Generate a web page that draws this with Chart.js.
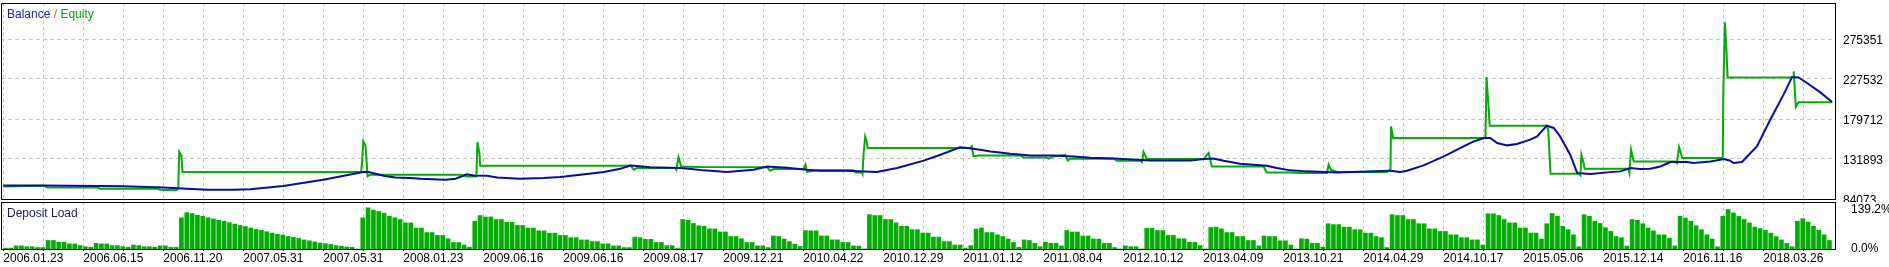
<!DOCTYPE html>
<html>
<head>
<meta charset="utf-8">
<title>Balance / Equity</title>
<script src="https://cdn.jsdelivr.net/npm/chart.js@4.4.1/dist/chart.umd.min.js"></script>
<style>
  html, body { margin: 0; padding: 0; background: #fff; }
  #wrap { position: relative; width: 1889px; height: 267px; overflow: hidden; font-family: 'Liberation Sans', Arial, sans-serif; font-size: 12px; }
  #top { position: absolute; left: 0; top: 0; }
  #bottom { position: absolute; left: 0; top: 202px; }
  .caption { position: absolute; left: 7px; line-height: 12px; white-space: pre; }
</style>
</head>
<body>
<div id="wrap">
  <canvas id="top" width="1889" height="202"></canvas>
  <canvas id="bottom" width="1889" height="65"></canvas>
  <div class="caption" style="top:8px"><span style="color:#2424a4">Balance</span><span style="color:#c07010"> / </span><span style="color:#00a800">Equity</span></div>
  <div class="caption" style="top:207px;color:#1c1c5c">Deposit Load</div>
</div>
<script>
// tester report: x axis is the deal number, labels are the dates of those deals
const dateLabels = ['2006.01.23', '2006.06.15', '2006.11.20', '2007.05.31', '2007.05.31', '2008.01.23',
  '2009.06.16', '2009.06.16', '2009.08.17', '2009.12.21', '2010.04.22', '2010.12.29', '2011.01.12',
  '2011.08.04', '2012.10.12', '2013.04.09', '2013.10.21', '2014.04.29', '2014.10.17', '2015.05.06',
  '2015.12.14', '2016.11.16', '2018.03.26'];
const dealsPerLabel = 15;

const priceTicks = [84073, 131893, 179712, 227532, 275351];
const loadTicks = [0, 139.2];

const balanceDeals = [0, 7.5, 22.5, 30, 34.5, 38.3, 43.1, 46.3, 52.5, 60, 67.5, 68.3, 71.3, 73.5, 76.3, 78.2,
  82.9, 84.8, 86.9, 88.2, 90.7, 92.6, 96.9, 101.3, 104.4, 108.2, 112.6, 115.7, 117.6, 118.8, 121.3, 126.9,
  129, 131.3, 135.7, 140.7, 143.2, 146.9, 150.7, 153.2, 158.2, 163.8, 167.6, 172.6, 175.7, 179.4, 180.7,
  183.2, 185.1, 186.9, 188.8, 192.6, 196.9, 200.7, 203.8, 208.2, 212.6, 215.1, 222.6, 225.1, 226.9, 228.8,
  231.9, 236.9, 238.8, 241.3, 244.4, 250.1, 260.1, 261.9, 263.2, 266.3, 270.1, 273.8, 275.7, 277.6, 278.8,
  280.1, 282, 283.8, 286.3, 287.6, 289.4, 290.7, 291.9, 293.8, 295.1, 297.6, 301.3, 303.2, 305.1, 306.9,
  308.8, 310.7, 312.6, 315.7, 316.9, 320.1, 322.6, 323.8, 324.4, 326, 327.6, 328.8, 331.3, 333.8, 335.4,
  336.6, 338.2, 340.7, 342.9];
const balanceValues = [100300, 100300, 99400, 97900, 96400, 95200, 95200, 95800, 99700, 107100, 116400,
  116700, 111900, 109900, 109200, 108300, 107100, 108300, 113500, 112300, 111900, 109900, 108300, 109200,
  110400, 113100, 116400, 120300, 124200, 123500, 121900, 121100, 120000, 118300, 116400, 119100, 123000,
  121500, 119100, 117900, 117900, 116400, 121100, 129900, 137000, 145800, 145000, 143000, 140800, 139800,
  138200, 136200, 136200, 135000, 133400, 132600, 131100, 130200, 130200, 131900, 132600, 129900, 126300,
  123900, 121100, 118300, 117100, 115900, 117900, 116400, 117900, 124200, 135000, 147000, 152900, 157000,
  157000, 151000, 148200, 149800, 155000, 158900, 171700, 169000, 158900, 137000, 115200, 114000, 116200,
  117100, 121100, 119900, 120300, 123000, 128300, 128300, 127100, 129000, 131900, 129900, 127100, 128300,
  139100, 147000, 178900, 208800, 229900, 229400, 222800, 211500, 200000];

const equityDeals = [0, 7.5, 8.3, 17.6, 18.2, 28.9, 29.4, 32.4, 32.8, 33, 33.4, 33.6, 67.1, 67.3, 67.5, 67.9,
  68.1, 68.3, 68.8, 85.7, 86.9, 88.7, 88.9, 89.3, 89.4, 116.3, 117.6, 118.2, 118.8, 126, 126.2, 126.6, 127.1,
  130.7, 143.2, 143.8, 144.4, 150.1, 150.4, 150.7, 152.6, 159.4, 159.8, 161, 161.1, 161.3, 161.6, 161.8,
  162.1, 181.3, 181.6, 181.9, 182.9, 190.7, 191.3, 195.6, 196, 196.9, 199.1, 199.6, 200, 208.2, 208.8, 213.2,
  213.5, 213.8, 214.4, 225.1, 226, 226.6, 236.3, 236.9, 241.3, 243.2, 248.2, 248.5, 248.9, 250.1, 259.4,
  260.1, 260.2, 260.6, 277.9, 278.1, 278.5, 278.7, 289.4, 289.7, 290.1, 295.4, 295.7, 295.9, 296.3, 296.5,
  304.7, 304.9, 305.2, 305.7, 313.5, 313.8, 314.2, 314.8, 322.3, 322.4, 322.5, 322.8, 323.1, 323.3, 335.6,
  335.7, 336.1, 336.6, 342.9];
const equityValues = [99100, 100000, 97900, 97900, 96400, 96400, 95200, 94600, 96400, 140300, 135600, 116400,
  116400, 131100, 152900, 148200, 131100, 111300, 113100, 113100, 111100, 111100, 152200, 137000, 123900,
  123900, 124200, 119100, 121100, 121100, 119100, 134300, 123000, 122300, 121900, 117900, 119900, 119900,
  125100, 116400, 118300, 118300, 115900, 115900, 114300, 137000, 158900, 155000, 145000, 145000, 147000,
  135000, 136200, 136200, 133800, 133800, 132300, 135000, 137000, 129900, 132300, 132300, 129900, 129900,
  128300, 140300, 131900, 131900, 139100, 123000, 123000, 115900, 115900, 115200, 115200, 125100, 119100,
  116400, 116400, 119100, 170900, 157000, 157000, 229900, 192900, 171700, 171700, 164900, 114300, 114300,
  112300, 137000, 127100, 120300, 120300, 115200, 143000, 129000, 129000, 127100, 146200, 133100, 133100,
  135000, 210800, 295200, 260500, 229400, 229400, 236600, 194100, 199600, 199600];

// deposit load in %, one bar per deal
const depositLoad = [
  3, 3, 11, 11, 8, 8, 5, 5, 30, 30,
  24, 24, 18, 18, 12, 8, 6, 20, 18, 18,
  12, 12, 8, 6, 14, 12, 8, 8, 6, 11,
  11, 6, 6, 110, 128, 125, 119, 115, 110, 106,
  101, 98, 93, 88, 83, 79, 74, 69, 66, 61,
  56, 52, 49, 44, 41, 37, 32, 29, 25, 21,
  19, 16, 12, 10, 7, 6, 0, 110, 145, 137,
  132, 126, 115, 110, 104, 92, 92, 74, 74, 58,
  58, 48, 48, 36, 23, 23, 14, 6, 98, 118,
  113, 113, 104, 104, 94, 94, 83, 83, 74, 74,
  64, 64, 56, 56, 48, 48, 40, 40, 32, 32,
  26, 26, 18, 18, 11, 11, 5, 5, 42, 40,
  34, 34, 23, 23, 12, 12, 2, 104, 101, 90,
  82, 80, 71, 71, 60, 60, 44, 44, 36, 23,
  23, 11, 11, 5, 46, 44, 35, 26, 17, 9,
  65, 64, 64, 46, 46, 32, 32, 23, 23, 11,
  10, 0, 121, 118, 118, 104, 104, 92, 80, 80,
  68, 68, 56, 56, 42, 42, 26, 26, 14, 14,
  2, 12, 70, 74, 58, 58, 50, 44, 35, 23,
  6, 32, 30, 20, 8, 24, 20, 20, 11, 65,
  60, 60, 46, 46, 35, 35, 20, 20, 5, 0,
  11, 8, 8, 0, 73, 73, 65, 65, 48, 48,
  36, 36, 24, 24, 12, 0, 76, 77, 71, 58,
  58, 44, 44, 30, 30, 11, 46, 44, 44, 29,
  29, 14, 0, 36, 35, 20, 20, 6, 89, 86,
  86, 77, 77, 68, 68, 56, 56, 44, 40, 5,
  121, 118, 118, 104, 104, 89, 89, 71, 71, 62,
  62, 50, 50, 40, 40, 32, 32, 14, 124, 124,
  118, 104, 92, 92, 74, 74, 56, 56, 35, 89,
  125, 115, 80, 68, 50, 8, 121, 115, 98, 90,
  75, 62, 44, 40, 10, 104, 101, 89, 74, 64,
  50, 50, 38, 11, 115, 109, 98, 82, 68, 50,
  35, 8, 115, 139, 127, 115, 104, 92, 77, 72,
  66, 56, 44, 32, 20, 8, 98, 107, 95, 80,
  66, 50, 30];

Chart.defaults.font.family = "'Liberation Sans', Arial, sans-serif";
Chart.defaults.font.size = 12;
Chart.defaults.color = '#000';

const GRID = '#c8c8c8';
const GREEN = '#00b000';
const X_MIN = -0.43;
const X_MAX = 343.63;

// grid every half label step, a date on every other line
function dealTicks() {
  const t = [];
  dateLabels.forEach((d, k) => {
    t.push({value: k * dealsPerLabel});
    t.push({value: k * dealsPerLabel + dealsPerLabel / 2});
  });
  return t;
}

function fixSize(w, h) {
  return s => {
    if (w != null) s.width = w;
    if (h != null) s.height = h;
    s.paddingTop = s.paddingBottom = s.paddingLeft = s.paddingRight = 0;
  };
}

const framePlugin = {
  id: 'frame',
  afterDraw(chart) {
    const a = chart.chartArea;
    const ctx = chart.ctx;
    ctx.save();
    ctx.strokeStyle = '#000';
    ctx.lineWidth = 1;
    ctx.strokeRect(a.left + 0.5, a.top + 0.5, a.right - a.left - 1, a.bottom - a.top);
    ctx.restore();
  }
};

const points = (xs, ys) => xs.map((x, i) => ({x: x, y: ys[i]}));

new Chart(document.getElementById('top'), {
  type: 'line',
  data: {
    datasets: [
      {label: 'Balance', data: points(balanceDeals, balanceValues), borderColor: '#0a0aa8',
        borderWidth: 2, pointRadius: 0, tension: 0, fill: false},
      {label: 'Equity', data: points(equityDeals, equityValues), borderColor: GREEN,
        borderWidth: 2, pointRadius: 0, tension: 0, fill: false}
    ]
  },
  options: {
    responsive: false,
    animation: false,
    events: [],
    layout: {padding: {left: 1, top: 3, right: 0, bottom: 3}},
    plugins: {legend: {display: false}, tooltip: {enabled: false}},
    scales: {
      x: {
        type: 'linear', min: X_MIN, max: X_MAX,
        afterBuildTicks: s => { s.ticks = dealTicks(); },
        afterFit: fixSize(null, 0),
        ticks: {display: false},
        grid: {color: GRID, drawTicks: false},
        border: {display: false, dash: [3, 3]}
      },
      y: {
        position: 'right', min: 84073, max: 318389,
        afterBuildTicks: s => { s.ticks = priceTicks.map(v => ({value: v})); },
        afterFit: fixSize(53, null),
        ticks: {padding: 7, labelOffset: 1.5, callback: v => String(v)},
        grid: {color: GRID, drawTicks: false},
        border: {display: false, dash: [4, 3]}
      }
    }
  },
  plugins: [framePlugin]
});

new Chart(document.getElementById('bottom'), {
  type: 'bar',
  data: {
    datasets: [{
      label: 'Deposit Load',
      data: depositLoad.map((v, i) => ({x: i + 0.4, y: v})),
      backgroundColor: GREEN,
      borderWidth: 0,
      barThickness: 4
    }]
  },
  options: {
    responsive: false,
    animation: false,
    events: [],
    layout: {padding: {left: 1, top: 0, right: 0, bottom: 0}},
    plugins: {legend: {display: false}, tooltip: {enabled: false}},
    scales: {
      x: {
        type: 'linear', min: X_MIN, max: X_MAX, offset: false,
        afterBuildTicks: s => { s.ticks = dealTicks(); },
        afterFit: fixSize(null, 18),
        ticks: {
          align: 'start', autoSkip: false, maxRotation: 0, padding: 0,
          callback: (v, i) => (i % 2 ? '' : dateLabels[i / 2])
        },
        grid: {color: GRID, offset: false, tickColor: '#000', tickLength: 2},
        border: {display: false, dash: [3, 3]}
      },
      y: {
        position: 'right', min: 0, max: 165.6,
        afterBuildTicks: s => { s.ticks = loadTicks.map(v => ({value: v})); },
        afterFit: fixSize(53, null),
        ticks: {padding: 7, callback: v => v.toFixed(1) + '%'},
        grid: {display: false},
        border: {display: false}
      }
    }
  },
  plugins: [framePlugin]
});
</script>
</body>
</html>
